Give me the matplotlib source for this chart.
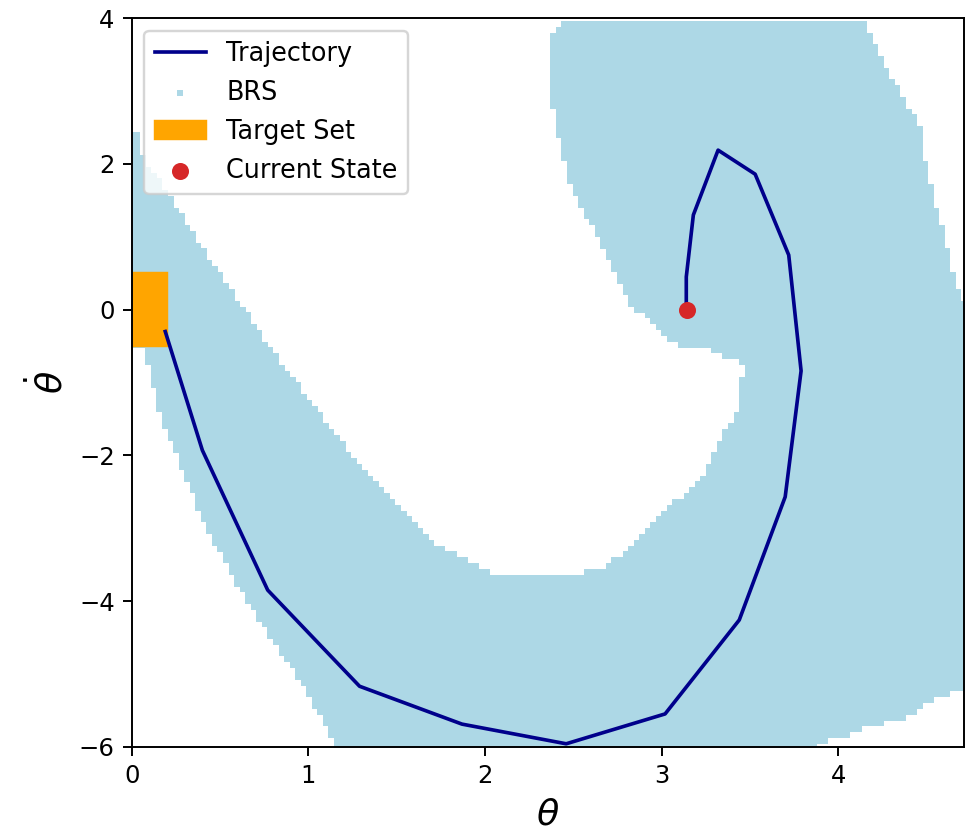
import numpy as np
import matplotlib
matplotlib.use("Agg")
import matplotlib.pyplot as plt
from matplotlib.path import Path
from matplotlib.patches import Rectangle

# ---- data ----
# trajectory (from current state back to target)
traj_theta = [3.14, 3.14, 3.18, 3.32, 3.53, 3.72, 3.79, 3.70, 3.44, 3.02,
              2.46, 1.87, 1.29, 0.77, 0.40, 0.19]
traj_thetadot = [0.00, 0.45, 1.30, 2.19, 1.86, 0.75, -0.84, -2.57, -4.26, -5.55,
                 -5.96, -5.69, -5.17, -3.85, -1.93, -0.30]

# current state
state_theta = [np.pi]
state_thetadot = [0.0]

# target set box
target_theta = (0.0, 0.2)
target_thetadot = (-0.5, 0.5)

# outline of the backward reachable set
brs_outline_theta = [-0.05, 0.04, 0.06, 0.234, 0.455, 0.82, 1.25, 1.48, 1.73, 2.04,
                     2.42, 2.67, 2.83, 2.98, 3.12, 3.22, 3.31, 3.37, 3.43, 3.43,
                     3.46, 3.49, 3.34, 3.28, 3.15, 3.06, 2.99, 2.91, 2.82, 2.71,
                     2.61, 2.55, 2.49, 2.45, 2.42, 2.40, 2.36, 2.36, 2.40, 2.44,
                     4.16, 4.20, 4.25, 4.32, 4.38, 4.45, 4.48, 4.54, 4.61, 4.67,
                     4.72, 4.80, 4.80, 4.67, 4.62, 4.55, 4.45, 4.41, 4.32, 4.22,
                     4.13, 4.07, 3.97, 3.88, 3.85, 1.16, 1.16, 1.07, 0.97, 0.88,
                     0.78, 0.69, 0.62, 0.54, 0.47, 0.43, 0.37, 0.31, 0.245, 0.22,
                     0.18, 0.14, 0.113, 0.085, 0.057, -0.05]
brs_outline_thetadot = [2.45, 2.45, 2.10, 1.50, 0.65, -0.65, -2.00, -2.60, -3.23, -3.62,
                        -3.67, -3.55, -3.27, -2.85, -2.55, -2.34, -1.88, -1.61, -1.38, -1.06,
                        -0.90, -0.76, -0.65, -0.55, -0.52, -0.46, -0.28, -0.11, 0.05, 0.65,
                        1.12, 1.39, 1.67, 2.03, 2.36, 2.70, 3.02, 3.70, 3.80, 3.95,
                        3.95, 3.70, 3.43, 3.11, 2.84, 2.67, 2.21, 1.57, 0.93, 0.34,
                        0.10, 0.10, -5.22, -5.24, -5.28, -5.36, -5.48, -5.57, -5.65, -5.69,
                        -5.77, -5.84, -5.89, -5.98, -6.10, -6.10, -5.98, -5.59, -5.15, -4.85,
                        -4.49, -4.12, -3.89, -3.53, -3.20, -3.06, -2.68, -2.34, -1.93, -1.79,
                        -1.61, -1.24, -0.94, -0.645, -0.51, -0.50]

# state grid of the reachability computation
theta_grid = np.linspace(0, 2 * np.pi, 201)
thetadot_grid = np.linspace(-8, 8, 201)

# ---- figure ----
fig = plt.figure(figsize=(965 / 175, 832 / 175), dpi=175)
ax = fig.add_axes([131.7 / 965, 1 - 746.7 / 832, (964 - 131.7) / 965, (746.7 - 18.3) / 832])

TH, THD = np.meshgrid(theta_grid, thetadot_grid)
pts = np.column_stack([TH.ravel(), THD.ravel()])
brs_path = Path(np.column_stack([brs_outline_theta, brs_outline_thetadot]))
inside = brs_path.contains_points(pts)
brs_pts = pts[inside]

ax.plot(traj_theta, traj_thetadot, color="darkblue", lw=1.5, label="Trajectory", zorder=3)
ax.scatter(brs_pts[:, 0], brs_pts[:, 1], s=5, marker="s", color="lightblue",
           linewidths=0, label="BRS", zorder=1)
ax.add_patch(Rectangle((target_theta[0], target_thetadot[0]),
                       target_theta[1] - target_theta[0],
                       target_thetadot[1] - target_thetadot[0],
                       color="orange", label="Target Set", zorder=2))
ax.scatter(state_theta, state_thetadot, color="tab:red", s=36, label="Current State", zorder=4)

ax.set_xlim(0, 3 * np.pi / 2)
ax.set_ylim(-6, 4)
ax.set_xlabel(r"$\theta$", fontsize=15)
ax.set_ylabel(r"$\dot{\theta}$", fontsize=15)
ax.legend(loc="upper left", fontsize=10.5)

fig.savefig("out.png", dpi=175)
